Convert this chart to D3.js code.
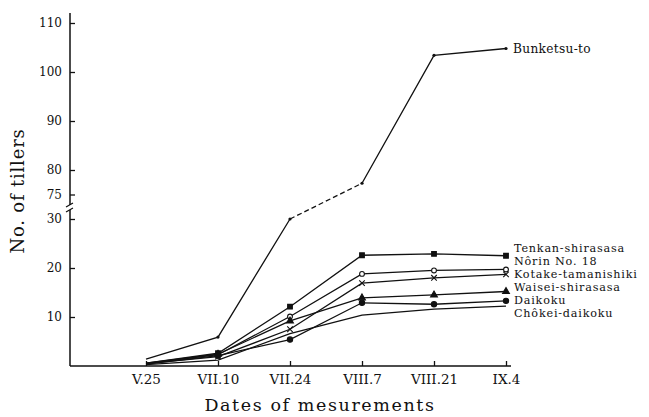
<!DOCTYPE html>
<html>
<head>
<meta charset="utf-8">
<script src="https://cdn.jsdelivr.net/npm/d3@7"></script>
<style>
  body { margin: 0; background: #fff; }
  svg text { font-family: "DejaVu Serif", "Liberation Serif", serif; fill: #111; }
  .axis line { stroke: #111; stroke-width: 1.3; }
  .axis .domain { display: none; }
  .axis text { font-size: 12px; }
  .serie { fill: none; stroke: #111; stroke-width: 1.3; }
  .lbl { font-size: 11.2px; letter-spacing: 0.8px; }
</style>
</head>
<body>
<div id="chart"></div>
<script>
    // dates des mesures (abscisse)
    var dates = ["V.25", "VII.10", "VII.24", "VIII.7", "VIII.21", "IX.4"];

    // nombre de talles par variété
    var bunketsu = [1.4, 5.9, 30.0, 77.3, 103.4, 104.8];
    var tenkan   = [0.6, 2.6, 12.1, 22.6, 22.9, 22.5];
    var norin    = [0.5, 2.3, 10.1, 18.8, 19.5, 19.7];
    var kotake   = [0.5, 1.9, 7.5, 16.9, 18.0, 18.7];
    var waisei   = [0.6, 2.4, 9.2, 13.9, 14.5, 15.2];
    var daikoku  = [0.4, 2.1, 5.4, 12.9, 12.6, 13.3];
    var chokei   = [0.3, 1.2, 6.6, 10.4, 11.6, 12.2];

    var lowNames = ["Tenkan-shirasasa", "Nôrin No. 18", "Kotake-tamanishiki",
                    "Waisei-shirasasa", "Daikoku", "Chôkei-daikoku"];
    var lowSeries = [tenkan, norin, kotake, waisei, daikoku, chokei];
    var lowMarkers = ["square", "ocircle", "x", "triangle", "circle", "none"];

    // graduations de l'axe vertical (axe coupé)
    var lowTicks = [10, 20, 30];
    var highTicks = [75, 80, 90, 100, 110];

    var width = 649, height = 417;
    var axisX = 70, axisY = 366;

    var svg = d3.select("#chart")
                .append("svg")
                .attr("width", width)
                .attr("height", height);

    var x = d3.scalePoint()
              .domain(dates)
              .range([146, 506]);

    // deux échelles : partie basse (0-30) et partie haute (75-110)
    var yLow = d3.scaleLinear().domain([0, 30]).range([axisY, 219]);
    var yHigh = d3.scaleLinear().domain([75, 110]).range([194.5, 23]);
    function y(v) { return v > 31 ? yHigh(v) : yLow(v); }

    // axe vertical
    svg.append("g")
       .attr("class", "axis")
       .attr("transform", "translate(" + axisX + ",0)")
       .call(d3.axisLeft(yLow).tickValues(lowTicks).tickSize(-5).tickPadding(8));
    svg.append("g")
       .attr("class", "axis")
       .attr("transform", "translate(" + axisX + ",0)")
       .call(d3.axisLeft(yHigh).tickValues(highTicks).tickSize(-5).tickPadding(8));

    svg.append("line")
       .attr("x1", axisX).attr("x2", axisX)
       .attr("y1", axisY).attr("y2", 210)
       .attr("stroke", "#111").attr("stroke-width", 1.5);
    svg.append("line")
       .attr("x1", axisX).attr("x2", axisX)
       .attr("y1", 205).attr("y2", 13)
       .attr("stroke", "#111").attr("stroke-width", 1.5);
    // marque de coupure
    svg.append("path")
       .attr("d", "M" + (axisX - 4) + ",207 L" + (axisX + 3) + ",203 M" + (axisX - 4) + ",212 L" + (axisX + 3) + ",208")
       .attr("stroke", "#111").attr("stroke-width", 1.2).attr("fill", "none");

    // axe horizontal
    svg.append("g")
       .attr("class", "axis")
       .attr("transform", "translate(0," + axisY + ")")
       .call(d3.axisBottom(x).tickSize(-5).tickPadding(8))
       .selectAll("text")
       .style("font-size", "13.5px")
       .attr("dy", "0.75em");
    svg.append("line")
       .attr("x1", axisX).attr("x2", 511)
       .attr("y1", axisY).attr("y2", axisY)
       .attr("stroke", "#111").attr("stroke-width", 1.5);

    // titres des axes
    svg.append("text")
       .attr("transform", "translate(24,191) rotate(-90)")
       .attr("text-anchor", "middle")
       .style("font-size", "18px")
       .style("letter-spacing", "0.8px")
       .text("No. of tillers");
    svg.append("text")
       .attr("x", 320)
       .attr("y", 411)
       .attr("text-anchor", "middle")
       .style("font-size", "17.5px")
       .style("letter-spacing", "1.6px")
       .text("Dates of mesurements");

    var line = d3.line()
                 .x(function(d) { return x(d.date); })
                 .y(function(d) { return y(d.value); });

    function toPoints(values) {
      return values.map(function(v, i) { return {date: dates[i], value: v}; });
    }

    // Bunketsu-to : trait plein, tirets au passage de la coupure
    var bPts = toPoints(bunketsu);
    svg.append("path").attr("class", "serie").attr("d", line(bPts.slice(0, 3)));
    svg.append("path").attr("class", "serie")
       .attr("stroke-dasharray", "5,3")
       .attr("d", line(bPts.slice(2, 4)));
    svg.append("path").attr("class", "serie").attr("d", line(bPts.slice(3)));
    svg.selectAll(".bdot")
       .data(bPts.slice(1))
       .enter().append("circle")
       .attr("class", "bdot")
       .attr("cx", function(d) { return x(d.date); })
       .attr("cy", function(d) { return y(d.value); })
       .attr("r", 1.6)
       .attr("fill", "#111");
    svg.append("text")
       .attr("class", "lbl")
       .style("font-size", "12.2px")
       .style("letter-spacing", "0.3px")
       .attr("x", 513)
       .attr("y", y(bunketsu[5]) + 4.5)
       .text("Bunketsu-to");

    // autres variétés
    var symbols = {
      square: d3.symbol().type(d3.symbolSquare).size(22),
      ocircle: d3.symbol().type(d3.symbolCircle).size(18),
      x: d3.symbol().type(d3.symbolX || d3.symbolTimes).size(22),
      triangle: d3.symbol().type(d3.symbolTriangle).size(20),
      circle: d3.symbol().type(d3.symbolCircle).size(22)
    };

    lowSeries.forEach(function(values, k) {
      var pts = toPoints(values);
      svg.append("path").attr("class", "serie").attr("d", line(pts));
      var m = lowMarkers[k];
      if (m !== "none") {
        svg.selectAll(".mk" + k)
           .data(pts.slice(1))
           .enter().append("path")
           .attr("class", "mk" + k)
           .attr("transform", function(d) { return "translate(" + x(d.date) + "," + y(d.value) + ")"; })
           .attr("d", symbols[m])
           .attr("fill", (m === "ocircle" || m === "x") ? "#fff" : "#111")
           .attr("stroke", "#111")
           .attr("stroke-width", 1.1);
      }
      svg.append("text")
         .attr("class", "lbl")
         .attr("x", 514)
         .attr("y", 252 + k * 13)
         .text(lowNames[k]);
    });
</script>
</body>
</html>
